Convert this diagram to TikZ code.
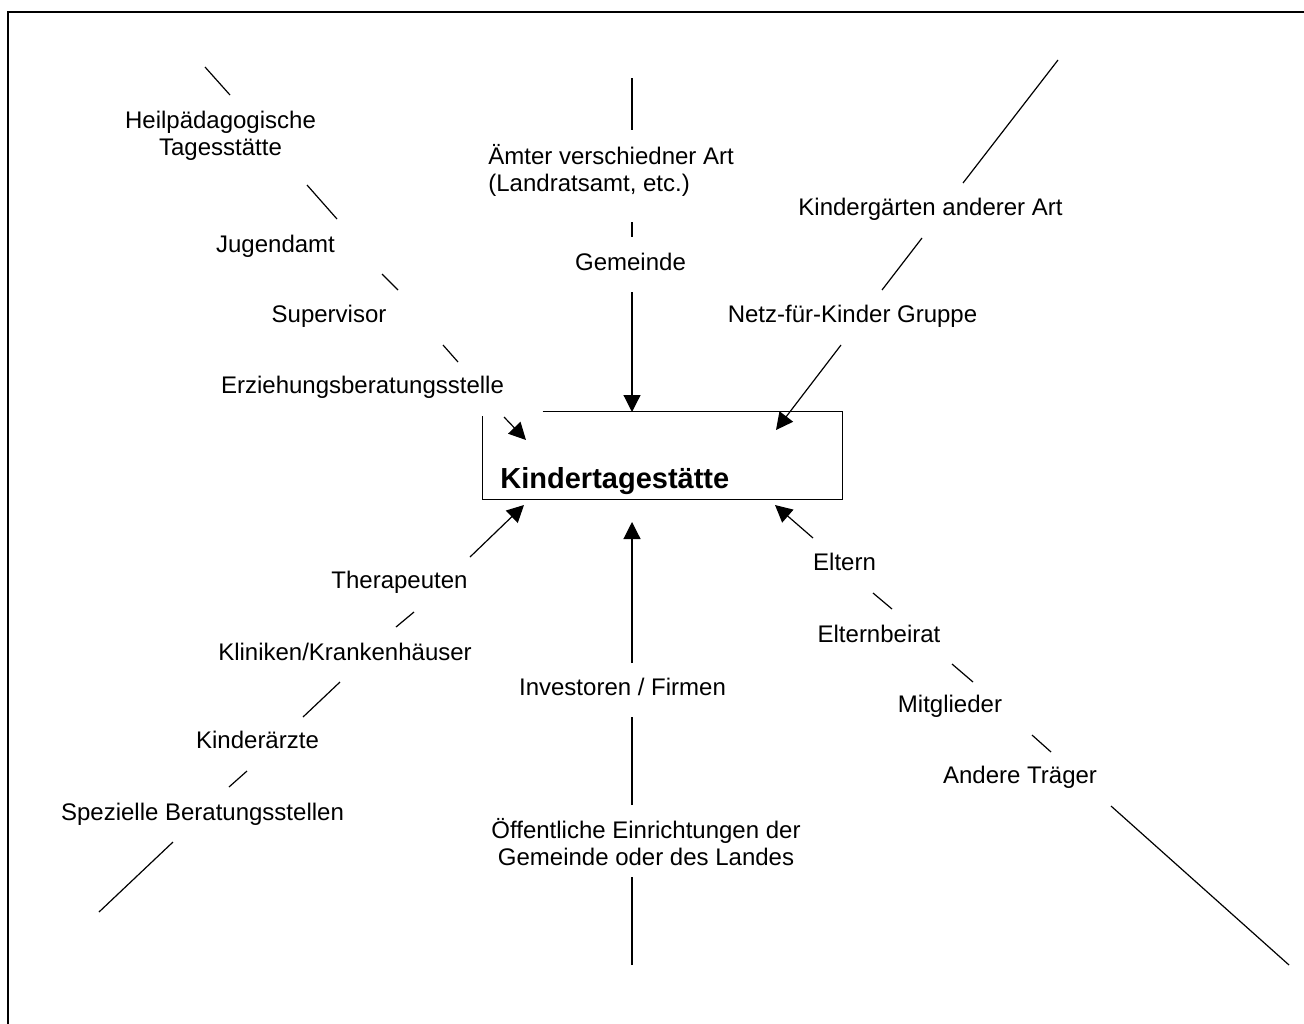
\documentclass[tikz,border=0pt]{standalone}
\usepackage{fontspec}
\setmainfont{Liberation Sans}
\usetikzlibrary{arrows.meta,calc}
\begin{document}
\begin{tikzpicture}[x=0.5pt,y=-0.5pt,
  font=\fontsize{12pt}{13.5pt}\selectfont,
  lbl/.style={inner sep=0pt, anchor=base, align=center},
  seg/.style={line width=0.6pt, line cap=butt},
  arr/.style={line width=0.6pt, -{Triangle[length=8.5pt,width=8.5pt]}},
  kitabox/.style={inner sep=0pt, minimum width=179.5pt, minimum height=43.5pt}]
\useasboundingbox (0,0) rectangle (1304,1023);
\clip (0,0) rectangle (1304,1023);
% outer frame (right and bottom edges lie outside the picture)
\draw[line width=1.1pt] (8.3,1040) -- (8.3,12.3) -- (1320,12.3);

% central box
\node[kitabox] (kita) at (662.5,455.5) {};
\draw[line width=0.85pt] ($(kita.north west)+(60,0)$) -- (kita.north east) -- (kita.south east) -- (kita.south west) -- ($(kita.north west)+(0,4)$);
\node[inner sep=0pt, anchor=base west, font=\fontsize{14.5pt}{17pt}\selectfont\bfseries] (kitalabel) at (500,488) {Kindertagestätte};

% labels (for two-line labels the base anchor is the last line's baseline)
\node[lbl] (heil) at (220.5,155) {Heilpädagogische\\Tagesstätte};
\node[lbl] (jugend) at (275.5,252) {Jugendamt};
\node[lbl] (super) at (329,322) {Supervisor};
\node[lbl] (erz) at (362.5,393) {Erziehungsberatungsstelle};
\node[lbl, anchor=base west, align=left] (aemter) at (488,191) {Ämter verschiedner Art\\(Landratsamt, etc.)};
\node[lbl] (gemeinde) at (630.5,270) {Gemeinde};
\node[lbl] (kigaand) at (930.5,215) {Kindergärten anderer Art};
\node[lbl] (netz) at (852.5,322) {Netz-für-Kinder Gruppe};
\node[lbl] (thera) at (399.5,588) {Therapeuten};
\node[lbl] (klinik) at (345,660) {Kliniken/Krankenhäuser};
\node[lbl] (kinderarzt) at (257.5,748) {Kinderärzte};
\node[lbl] (spez) at (202.5,820) {Spezielle Beratungsstellen};
\node[lbl] (invest) at (622.5,695) {Investoren / Firmen};
\node[lbl] (oeff) at (646,865) {Öffentliche Einrichtungen der\\Gemeinde oder des Landes};
\node[lbl] (eltern) at (844.5,570) {Eltern};
\node[lbl] (beirat) at (879,642) {Elternbeirat};
\node[lbl] (mitgl) at (950,712) {Mitglieder};
\node[lbl] (traeger) at (1020,783) {Andere Träger};

% connector end points
\coordinate (a1) at (205,67);   \coordinate (a2) at (230,95);
\coordinate (a3) at (307,185);  \coordinate (a4) at (337,219);
\coordinate (a5) at (382,274);  \coordinate (a6) at (398,290);
\coordinate (a7) at (443,345);  \coordinate (a8) at (458,362);
\coordinate (a9) at (504,417);  \coordinate (tipNW) at (526,440);

\coordinate (b1) at (632,78);   \coordinate (b2) at (632,130);
\coordinate (b3) at (632,222);  \coordinate (b4) at (632,237);
\coordinate (b5) at (632,292);  \coordinate (tipN) at (632,412);

\coordinate (c1) at (1058,60);  \coordinate (c2) at (963,183);
\coordinate (c3) at (922,238);  \coordinate (c4) at (882,290);
\coordinate (c5) at (841,345);  \coordinate (tipNE) at (776,430);

\coordinate (d1) at (99,912);   \coordinate (d2) at (173,842);
\coordinate (d3) at (229,787);  \coordinate (d4) at (247,771);
\coordinate (d5) at (303,717);  \coordinate (d6) at (340,682);
\coordinate (d7) at (396,627);  \coordinate (d8) at (414,612);
\coordinate (d9) at (470,557);  \coordinate (tipSW) at (524,505);

\coordinate (e1) at (632,965);  \coordinate (e2) at (632,877);
\coordinate (e3) at (632,805);  \coordinate (e4) at (632,717);
\coordinate (e5) at (632,663);  \coordinate (tipS) at (632,522);

\coordinate (f1) at (1289,965); \coordinate (f2) at (1111,806);
\coordinate (f3) at (1051,752); \coordinate (f4) at (1032,735);
\coordinate (f5) at (973,682);  \coordinate (f6) at (952,664);
\coordinate (f7) at (892,609);  \coordinate (f8) at (873,593);
\coordinate (f9) at (813,538);  \coordinate (tipSE) at (775,505);

% connectors
\draw[seg] (a1) -- (a2); \draw[seg] (a3) -- (a4); \draw[seg] (a5) -- (a6); \draw[seg] (a7) -- (a8);
\draw[arr] (a9) -- (tipNW);
\draw[seg] (b1) -- (b2); \draw[seg] (b3) -- (b4);
\draw[arr] (b5) -- (tipN);
\draw[seg] (c1) -- (c2); \draw[seg] (c3) -- (c4);
\draw[arr] (c5) -- (tipNE);
\draw[seg] (d1) -- (d2); \draw[seg] (d3) -- (d4); \draw[seg] (d5) -- (d6); \draw[seg] (d7) -- (d8);
\draw[arr] (d9) -- (tipSW);
\draw[seg] (e1) -- (e2); \draw[seg] (e3) -- (e4);
\draw[arr] (e5) -- (tipS);
\draw[seg] (f1) -- (f2); \draw[seg] (f3) -- (f4); \draw[seg] (f5) -- (f6); \draw[seg] (f7) -- (f8);
\draw[arr] (f9) -- (tipSE);
\end{tikzpicture}
\end{document}
